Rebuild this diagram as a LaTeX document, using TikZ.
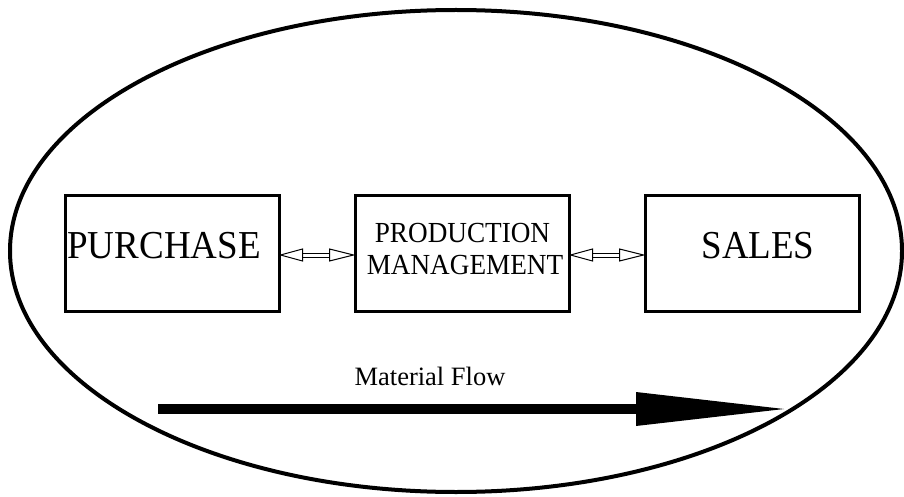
\documentclass[tikz,border=0pt]{standalone}
\usepackage{fontspec}
\setmainfont{Liberation Serif}
\usetikzlibrary{calc}
\tikzset{
  boxnode/.style={draw, line width=3pt, minimum width=214pt, minimum height=116pt, inner sep=0pt},
  hollowhead/.style={draw, line width=1pt, fill=white, line join=miter},
  txt/.style={anchor=base, inner sep=0pt},
}
\newcommand\tall[1]{\scalebox{1}[1.07]{#1}}
\newcommand\hollowdbl[2]{%
  \draw[hollowhead] (#1) -- ($(#1)+(22pt,6pt)$) -- ($(#1)+(22pt,-6pt)$) -- cycle;
  \draw[hollowhead] (#2) -- ($(#2)+(-24pt,6pt)$) -- ($(#2)+(-24pt,-6pt)$) -- cycle;
  \draw[line width=1pt] ($(#1)+(22pt,2pt)$) -- ($(#2)+(-24pt,2pt)$);
  \draw[line width=1pt] ($(#1)+(22pt,-2pt)$) -- ($(#2)+(-24pt,-2pt)$);
}
\begin{document}
\begin{tikzpicture}[x=1pt,y=-1pt]
\useasboundingbox (0,0) rectangle (904,497);
\draw[line width=4pt] (456,251) ellipse [x radius=446, y radius=241];
\node[boxnode] (pur) at (172,253) {};
\node[boxnode] (prod) at (462,253) {};
\node[boxnode] (sal) at (752,253) {};
\node[txt, font=\fontsize{37}{40}\selectfont] (purt) at (164,258) {\tall{PURCHASE}};
\node[txt, font=\fontsize{37}{40}\selectfont] (salt) at (758,258) {\tall{SALES}};
\node[txt, font=\fontsize{27.2}{32}\selectfont] (prodt1) at (462.5,242) {\tall{PRODUCTION}};
\node[txt, font=\fontsize{27.2}{32}\selectfont] (prodt2) at (465,274) {\tall{MANAGEMENT}};
\node[txt, font=\fontsize{26.5}{30}\selectfont] (mflow) at (430,385) {Material Flow};
\coordinate (a1) at ([yshift=-2pt]pur.east);
\coordinate (a2) at ([yshift=-2pt]prod.west);
\coordinate (b1) at ([yshift=-2pt]prod.east);
\coordinate (b2) at ([yshift=-2pt]sal.west);
\hollowdbl{a1}{a2}
\hollowdbl{b1}{b2}
\coordinate (fs) at (158,409);
\coordinate (fe) at (784,409);
\fill (fs) ++(0,-5) rectangle (637,414);
\fill (fe) -- (636,392) -- (636,426) -- cycle;
\end{tikzpicture}
\end{document}
